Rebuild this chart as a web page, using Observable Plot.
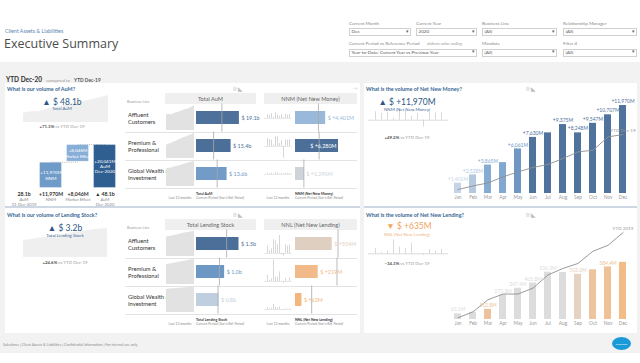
<!DOCTYPE html>
<html>
<head>
<meta charset="utf-8">
<script src="https://cdn.jsdelivr.net/npm/d3@7"></script>
<script src="https://cdn.jsdelivr.net/npm/@observablehq/plot@0.6"></script>
<style>
  html, body { margin:0; padding:0; background:#fff; }
  #root { position:relative; width:640px; height:363px; overflow:hidden; font-family: Lato, "Open Sans", sans-serif; }
  .t { position:absolute; white-space:nowrap; line-height:1.15; }
  .b { position:absolute; }
</style>
</head>
<body>
<div id="root"></div>
<script>
// ---------------- DATA ----------------
const months = ["Jan","Feb","Mar","Apr","May","Jun","Jul","Aug","Sep","Oct","Nov","Dec"];
const businessLines = ["Affluent Customers","Premium & Professional","Global Wealth & Investment"];
const lineLabels = ["Affluent<br>Customers","Premium &amp;<br>Professional","Global Wealth &amp;<br>Investment"];

// Total AuM ($b), last 12 months, by business line
const aumAffluent = [11.9,12.4,11.8,12.9,13.6,14.2,14.9,15.8,16.1,16.9,17.8,19.1];
const aumPremium  = [8.1,8.9,9.4,10.2,10.8,11.6,12.1,12.9,13.4,14.1,14.8,15.4];
const aumGlobal   = [9.5,9.9,10.1,10.6,10.9,11.3,11.7,12.1,12.5,12.9,13.3,13.6];
const aumRefYTD   = [11.3, 7.6, 9.2];            // reference period ($b)

// Net New Money ($M), monthly flows by business line
const nnmAffluent = [420,310,520,150,610,380,240,410,90,450,380,441];
const nnmPremium  = [860,730,675,150,1053,1035,320,620,-1260,723,670,704];
const nnmGlobal   = [121,87,142,35,198,154,60,95,43,126,110,119];
const nnmRefYTD   = [3350, 3450, 1223];
const nnmCumulative    = [1401,2528,3865,4200,6061,7630,8250,9375,8248,9547,10707,11970];
const nnmCumulativeRef = [544,1030,1440,2260,2940,3540,3950,4760,5660,5890,7700,8023];

// Lending stock ($b), last 12 months
const lendAffluent = [1.15,1.18,1.20,1.24,1.28,1.31,1.35,1.39,1.41,1.44,1.46,1.48];
const lendPremium  = [0.77,0.79,0.81,0.83,0.85,0.87,0.89,0.91,0.93,0.95,0.97,0.98];
const lendGlobal   = [0.72,0.73,0.74,0.74,0.75,0.76,0.76,0.77,0.77,0.78,0.78,0.78];
const lendRefYTD   = [1.05, 0.80, 0.75];

// Net New Lending ($M), monthly flows
const nnlAffluent = [30,10,18,55,50,35,72,-5,-10,35,30,34];
const nnlPremium  = [25.1,4.7,10.0,84.5,17.1,17.4,38.5,1.2,-6.5,11.8,0.6,14.6];
const nnlGlobal   = [8,2,5,20,8,6,10,-1,-2,3,1,2];
const nnlRefYTD   = [410, 400, 156];
const nnlCumulative    = [63.1,79.8,112.8,272.3,347.4,405.8,526.3,521.5,503.0,552.8,584.4,635.0];
const nnlCumulativeRef = [19,85,220,283,283,349,495,568,623,759,825,966];

// AuM waterfall ($b)
const waterfallSteps  = ["AuM 31-Dec-2019","NNM","Market Effect","AuM Dec-2020"];
const waterfallValues = [28.075, 11.970, 8.046, 48.116];

// KPI growth vs YTD Dec-19 (%)
const aumGrowthPct = 71.3;
const nnmGrowthPct = 49.2;
const lendGrowthPct = 24.6;
const nnlGrowthPct = -34.3;

// ---------------- HELPERS ----------------
const root = document.getElementById("root");
const FONT = "Lato, 'Open Sans', sans-serif";
function box(x,y,w,h,css){const d=document.createElement("div");d.className="b";d.style.cssText=`left:${x}px;top:${y}px;width:${w}px;height:${h}px;${css||""}`;root.appendChild(d);return d;}
function T(x,y,html,css,anchor){const d=document.createElement("div");d.className="t";const tx=anchor==="middle"?"-50%":anchor==="end"?"-100%":"0";d.style.cssText=`left:${x}px;top:${y}px;transform:translate(${tx},-50%);${css||""}`;d.innerHTML=html;root.appendChild(d);return d;}
function put(svg,x,y){const d=document.createElement("div");d.className="b";d.style.cssText=`left:${x}px;top:${y}px;width:${svg.getAttribute("width")}px;`;d.appendChild(svg);root.appendChild(d);}
const st = (extra={}) => ({background:"transparent", fontFamily:FONT, overflow:"visible", ...extra});
const sum = a => a.reduce((s,v)=>s+v,0);
const fmtM = v => (v>=0?"+":"") + d3.format(",.0f")(v) + "M";
const pct = v => (v>=0?"+":"") + d3.format(".1f")(v) + "%";

// ---------------- BACKGROUND / HEADER ----------------
box(0,62,640,291,"background:#f2f2f2");
box(5,83,355,123,"background:#fff");
box(364,83,273,123,"background:#fff");
box(5,206,355,2,"background:#cdd8e4");
box(364,206,273,2,"background:#cdd8e4");
box(5,208,355,125,"background:#fff");
box(364,208,273,125,"background:#fff");

T(5,31,"Client Assets &amp; Liabilities","font-size:5.3px;color:#5b86b3");
T(4,44,"Executive Summary","font-family:'Open Sans';font-size:12.5px;color:#4d4d4d");
T(6,75.5,"<b style='font-size:6.5px;color:#333'>YTD Dec-20</b> <span style='font-size:4.3px;color:#999'>compared to</span> <b style='font-size:4.8px;color:#555'>YTD Dec-19</b>","");

function filterBox(label,x,y,w,value){
  T(x,y,label,"font-size:4.6px;color:#888");
  box(x,y+4.5,w,8,"background:#fff;border:0.6px solid #d0d0d0;box-sizing:border-box");
  T(x+2.5,y+8.6,value,"font-size:4.6px;color:#555");
  T(x+w-4,y+8.4,"▾","font-size:5px;color:#666","middle");
}
filterBox("Current Month",349,23.5,62,"Dec");
filterBox("Current Year",416,23.5,61,"2020");
filterBox("Business Line",482,23.5,75,"(All)");
filterBox("Relationship Manager",563,23.5,74,"(All)");
filterBox("Current Period vs Reference Period",349,44,128,"Year-to-Date: Current Year vs Previous Year");
T(427,44,"<i>defines color coding</i>","font-size:4.3px;color:#999");
filterBox("Mandate",482,44,75,"(All)");
filterBox("Filter 4",563,44,74,"(All)");

const titleCss = "font-size:5.4px;color:#3b6895;font-weight:700";
T(7,88.5,"What is our volume of AuM?",titleCss);
T(366,88.5,"What is the volume of Net New Money?",titleCss);
T(7,214.5,"What is our volume of Lending Stock?",titleCss);
T(366,214.5,"What is the volume of Net New Lending?",titleCss);
[[238,88.5],[531,88.5],[238,214.5],[531,214.5]].forEach(([x,y])=>T(x,y,"⊪◣","font-size:5.5px;color:#bdbdbd","middle"));
T(355,89,"→","font-size:5px;color:#c0c0c0","middle");

T(3,345,"Salesforce | Client Assets &amp; Liabilities | Confidential Information | For internal use only","font-size:3.6px;color:#8a8a8a");
box(612,337,19,13,"background:#1a9bd7;border-radius:50%");
T(621.5,343.5,"salesforce","font-size:2.6px;color:#fff","middle");

// ---------------- KPI blocks ----------------
function kpiArea(x,y,w,h,vals,floor){
  const data = vals.map((v,i)=>({i,v}));
  put(Plot.plot({width:w,height:h,margin:0,style:st(),x:{axis:null},y:{axis:null,domain:[floor,d3.max(vals)]},
    marks:[Plot.areaY(data,{x:"i",y:"v",fill:"#efefef",clip:true})]}),x,y);
}
function kpiSpikes(x,y,w,h,vals,domain){
  const data = months.map((m,i)=>({month:m,v:vals[i]}));
  put(Plot.plot({width:w,height:h,margin:0,style:st(),x:{type:"point",domain:months,axis:null,inset:3},y:{domain,axis:null},
    marks:[Plot.ruleY([0],{stroke:"#c4c4c4",strokeWidth:0.6}),
           Plot.ruleX(data,{x:"month",y1:0,y2:"v",stroke:"#cfcfcf",strokeWidth:0.8})]}),x,y);
}

const aumTotalSeries = months.map((m,i)=>aumAffluent[i]+aumPremium[i]+aumGlobal[i]);
kpiArea(23,95,85,27,aumTotalSeries,20);
T(62,102.5,"▲ $ "+d3.format(".1f")(aumTotalSeries[11])+"b","font-size:8.5px;color:#2b5683","middle");
T(62,108.8,"Total AuM","font-size:4.4px;color:#3d6a98","middle");
T(62,127,`<b style='color:#555'>${pct(aumGrowthPct)}</b> vs YTD Dec-19`,"font-size:4.4px;color:#999","middle");

const lendTotalSeries = months.map((m,i)=>lendAffluent[i]+lendPremium[i]+lendGlobal[i]);
kpiArea(23,228,84,29,lendTotalSeries,1.8);
T(65,228.5,"▲ $ "+d3.format(".1f")(lendTotalSeries[11])+"b","font-size:8.5px;color:#2b5683","middle");
T(65,236,"Total Lending Stock","font-size:4.4px;color:#3d6a98","middle");
T(65,263,`<b style='color:#555'>${pct(lendGrowthPct)}</b> vs YTD Dec-19`,"font-size:4.4px;color:#999","middle");

const nnmMonthly = months.map((m,i)=>nnmAffluent[i]+nnmPremium[i]+nnmGlobal[i]);
kpiSpikes(368,104,80,26,nnmMonthly,[-1700,2600]);
T(407,103,"▲ $ "+fmtM(nnmCumulative[11]),"font-size:8.5px;color:#2b5683","middle");
T(407,109.5,"NNM (Net New Money)","font-size:4.4px;color:#3d6a98","middle");
T(407,137.5,`<b style='color:#555'>${pct(nnmGrowthPct)}</b> vs YTD Dec-19`,"font-size:4.4px;color:#999","middle");

const nnlMonthly = months.map((m,i)=>nnlAffluent[i]+nnlPremium[i]+nnlGlobal[i]);
kpiSpikes(368,230,80,28,nnlMonthly,[-53,265]);
T(409,226.5,"▼ $ "+fmtM(nnlCumulative[11]),"font-size:8.5px;color:#f2a35e","middle");
T(407,235,"NNL (Net New Lending)","font-size:4.4px;color:#f0b27e","middle");
T(407,263.5,`<b style='color:#555'>${pct(nnlGrowthPct)}</b> vs YTD Dec-19`,"font-size:4.4px;color:#999","middle");

// ---------------- WATERFALL ----------------
{
  const [start, nnm, mkt, end] = waterfallValues;
  const wf = [
    {step:waterfallSteps[0], y1:start, y2:start, inner:"", value:d3.format(".1f")(start)+"b", sub:"AuM\n31-Dec-2019"},
    {step:waterfallSteps[1], y1:start, y2:start+nnm, inner:fmtM(nnm*1000)+"\nNNM", value:fmtM(nnm*1000), sub:"NNM"},
    {step:waterfallSteps[2], y1:start+nnm, y2:start+nnm+mkt, inner:fmtM(mkt*1000)+"\nMarket Effect", value:fmtM(mkt*1000), sub:"Market Effect"},
    {step:waterfallSteps[3], y1:start, y2:end, inner:fmtM((end-start)*1000)+"\nAuM\nDec-2020", value:"▲ "+d3.format(".1f")(end)+"b", sub:"AuM\nDec-2020"}
  ];
  const links = [
    {from:waterfallSteps[1], to:waterfallSteps[2], level:start+nnm},
    {from:waterfallSteps[2], to:waterfallSteps[3], level:start+nnm+mkt}
  ];
  put(Plot.plot({
    width:120, height:66, marginLeft:3, marginRight:2, marginTop:2, marginBottom:18,
    style:st(),
    x:{domain:waterfallSteps, padding:0.16, axis:null},
    y:{domain:[start, end+(end-start)*0.045], axis:null},
    color:{domain:waterfallSteps, range:["#ffffff","#6f9bc9","#87aed7","#2f5e91"]},
    marks:[
      Plot.link(links,{x1:"from",x2:"to",y1:"level",y2:"level",stroke:"#8c8c8c",strokeWidth:0.6,strokeDasharray:"1,1.2"}),
      Plot.barY(wf,{x:"step",y1:"y1",y2:"y2",fill:"step",stroke:"#ffffff",strokeOpacity:0.7,strokeWidth:0.6,strokeDasharray:"0.8,0.8",inset:0.6}),
      Plot.text(wf,{filter:d=>d.inner!=="",x:"step",y:d=>(d.y1+d.y2)/2,text:"inner",fill:"#ffffff",fontSize:4.6,lineHeight:1.15}),
      Plot.text(wf,{x:"step",frameAnchor:"bottom",dy:3.8,lineAnchor:"top",text:"value",fontWeight:"bold",fontSize:5.2,fill:"#333"}),
      Plot.text(wf,{x:"step",frameAnchor:"bottom",dy:9.2,lineAnchor:"top",text:"sub",fontSize:4.2,fill:"#888",lineHeight:1.15})
    ]
  }),3,140);
}

// ---------------- BREAKDOWN TABLES ----------------
const cap = "font-size:3.4px;color:#8a8a8a";
const capBold = "font-size:3.6px;color:#333;font-weight:700";
function breakdown(top, cfg){
  T(127,top-2.5,"Business Line","font-size:3.8px;color:#9a9a9a");
  box(165,top-11,91,11,"background:#efefef");
  T(210.5,top-5.5,cfg.stockTitle,"font-size:5.6px;color:#666","middle");
  box(264,top-11,93,11,"background:#efefef");
  T(310.5,top-5.5,cfg.flowTitle,"font-size:5.6px;color:#666","middle");
  businessLines.forEach((l,i)=>{
    box(125,top+28*(i+1)-0.5,232,0.6,"background:#e3e3e3");
    T(128,top+14+28*i,lineLabels[i],"font-size:5.8px;color:#333;line-height:7.2px");
  });
  T(180,top+95,"Last 12 months",cap,"middle");
  T(196,top+90,cfg.stockTitle,capBold);
  T(196,top+95,"Current Period <i>(line is Ref. Period)</i>",cap);
  T(278,top+95,"Last 12 months",cap,"middle");
  T(295,top+90,cfg.flowTitle,capBold);
  T(295,top+95,"Current Period <i>(line is Ref. Period)</i>",cap);

  const fy = {domain:businessLines, axis:null, padding:0.1};

  // stock sparklines
  const spark = businessLines.flatMap((l,li)=>cfg.stock[li].map((v,i)=>({line:l,i,v})));
  put(Plot.plot({width:28,height:84,margin:0,style:st(),x:{axis:null},y:{axis:null},fy,
    facet:{data:spark,y:"line"},
    marks:[Plot.areaY(spark,Plot.normalizeY("max",{x:"i",y:"v",fill:"#e2e2e2"}))]}),166,top);

  // stock bars
  const sCur = cfg.stock.map(a=>a[a.length-1]);
  const sBars = businessLines.map((l,i)=>({line:l,value:sCur[i],ref:cfg.stockRef[i],growth:sCur[i]/cfg.stockRef[i]-1}));
  put(Plot.plot({width:60,height:84,margin:0,style:st(),x:{domain:cfg.stockDomain,axis:null},y:{axis:null},fy,
    facet:{data:sBars,y:"line"}, color:cfg.stockColor,
    marks:[
      Plot.barX(sBars,{x:"value",fill:"growth",insetTop:6,insetBottom:6}),
      Plot.ruleX(sBars,{x:"ref",stroke:"#a8a8a8",strokeWidth:0.8,insetTop:-1.5,insetBottom:-1.5}),
      Plot.text(sBars,{x:"value",text:d=>cfg.stockFmt(d.value),dx:2,textAnchor:"start",fill:"growth",fontSize:5.4})
    ]}),196,top);

  // flow spikes
  const spikes = businessLines.flatMap((l,li)=>cfg.flow[li].map((v,i)=>({line:l,month:months[i],v})));
  put(Plot.plot({width:28,height:84,margin:0,style:st(),x:{type:"point",domain:months,axis:null,inset:1.5},y:{domain:cfg.spikeDomain,axis:null},fy,
    facet:{data:spikes,y:"line"},
    marks:[
      Plot.ruleY([0],{stroke:"#d0d0d0",strokeWidth:0.5}),
      Plot.ruleX(spikes,{x:"month",y1:0,y2:"v",stroke:"#c6c6c6",strokeWidth:0.7})
    ]}),264,top);

  // flow bars
  const fCur = cfg.flow.map(sum);
  const thr = cfg.flowDomain[1]*0.62;
  const fBars = businessLines.map((l,i)=>({line:l,value:fCur[i],ref:cfg.flowRef[i],growth:fCur[i]/cfg.flowRef[i]-1}));
  put(Plot.plot({width:62,height:84,margin:0,style:st(),x:{domain:cfg.flowDomain,axis:null},y:{axis:null},fy,
    facet:{data:fBars,y:"line"}, color:cfg.flowColor,
    marks:[
      Plot.barX(fBars,{x:"value",fill:"growth",insetTop:6,insetBottom:6}),
      Plot.ruleX(fBars,{x:"ref",stroke:"#a8a8a8",strokeWidth:0.8,insetTop:-1.5,insetBottom:-1.5}),
      Plot.text(fBars,{filter:d=>d.value<=thr,x:"value",text:d=>cfg.flowFmt(d.value),dx:2,textAnchor:"start",fill:"growth",fontSize:5.4}),
      Plot.text(fBars,{filter:d=>d.value>thr,x:"value",text:d=>cfg.flowFmt(d.value),dx:-2,textAnchor:"end",fill:"#ffffff",fontSize:5.4})
    ]}),295,top);
}

const blueScale = {type:"linear", domain:[0,0.3,0.5,0.7], range:["#d9d9d9","#9dbbdc","#6d97c4","#4b6f99"], clamp:true};
breakdown(104,{
  stockTitle:"Total AuM", flowTitle:"NNM (Net New Money)",
  stock:[aumAffluent,aumPremium,aumGlobal], stockRef:aumRefYTD, stockDomain:[0,26.7],
  stockFmt:v=>"$ "+d3.format(".1f")(v)+"b", stockColor:blueScale,
  flow:[nnmAffluent,nnmPremium,nnmGlobal], flowRef:nnmRefYTD, flowDomain:[0,9050],
  spikeDomain:[-1300,1400], flowFmt:v=>"$ "+fmtM(v), flowColor:blueScale
});
breakdown(230,{
  stockTitle:"Total Lending Stock", flowTitle:"NNL (Net New Lending)",
  stock:[lendAffluent,lendPremium,lendGlobal], stockRef:lendRefYTD, stockDomain:[0,2.09],
  stockFmt:v=>"$ "+d3.format(".1f")(v)+"b",
  stockColor:{type:"linear", domain:[0,0.05,0.225,0.41], range:["#d9d9d9","#b9cde2","#6e98c4","#4b6f99"], clamp:true},
  flow:[nnlAffluent,nnlPremium,nnlGlobal], flowRef:nnlRefYTD, flowDomain:[0,598],
  spikeDomain:[-12,88], flowFmt:v=>"$ "+fmtM(v),
  flowColor:{type:"linear", domain:[-0.5,-0.3,-0.1,0], range:["#f4b57e","#ebc8a8","#dcd0c6","#d9d9d9"], clamp:true}
});

// ---------------- MONTHLY CUMULATIVE CHARTS ----------------
function monthly(x0,y0,values,refs,refLabel,colorBy,color,yMax,fmt){
  const H=110, mt=5, mb=9, innerH=H-mt-mb;
  const data = months.map((m,i)=>({month:m,i,value:values[i],ref:refs[i],ratio:values[i]/refs[i]}));
  let last=null;
  data.forEach(d=>{
    const py = d.value/yMax*innerH;
    if (last && d.i-last.i===1 && Math.abs(py-last.py)<5) d.show=false;
    else { d.show=true; last={i:d.i,py}; }
  });
  put(Plot.plot({
    width:196, height:H, marginLeft:7.1, marginRight:7.1, marginTop:mt, marginBottom:mb,
    style:st({fontSize:"4.8px", color:"#9a9a9a"}),
    x:{domain:months, paddingInner:0.56, paddingOuter:0.28, tickSize:0, tickPadding:2.5, label:null},
    y:{domain:[0,yMax], axis:null},
    color,
    marks:[
      Plot.barY(data,{x:"month",y:"value",fill:colorBy}),
      Plot.line(data,{x:"month",y:"ref",stroke:"#8f8f8f",strokeWidth:0.9}),
      Plot.text(data,{filter:d=>d.show,x:"month",y:"value",text:d=>fmt(d.value),dy:-4,fontSize:5,fill:colorBy}),
      Plot.text(data,{filter:d=>d.i===11,x:"month",y:"ref",text:()=>refLabel,dy:-4,fontSize:4.6,fill:"#9a9a9a"})
    ]
  }),x0,y0);
}
monthly(442,92,nnmCumulative,nnmCumulativeRef,"YTD Dec-19","value",
  {type:"linear", domain:[1400,2600,3800,6000,7600], range:["#c5d5e7","#b3c8df","#86acd3","#6f98c6","#4f739c"], clamp:true},
  13060, fmtM);
monthly(442,218,nnlCumulative,nnlCumulativeRef,"YTD 2019","ratio",
  {type:"linear", domain:[0.5,0.66,0.75,0.82,0.9], range:["#ebc29f","#f2bc86","#ecc6a4","#e3d5c9","#dcdcdc"], clamp:true},
  1067, v=>d3.format(".1f")(v)+"M");
</script>
</body>
</html>
